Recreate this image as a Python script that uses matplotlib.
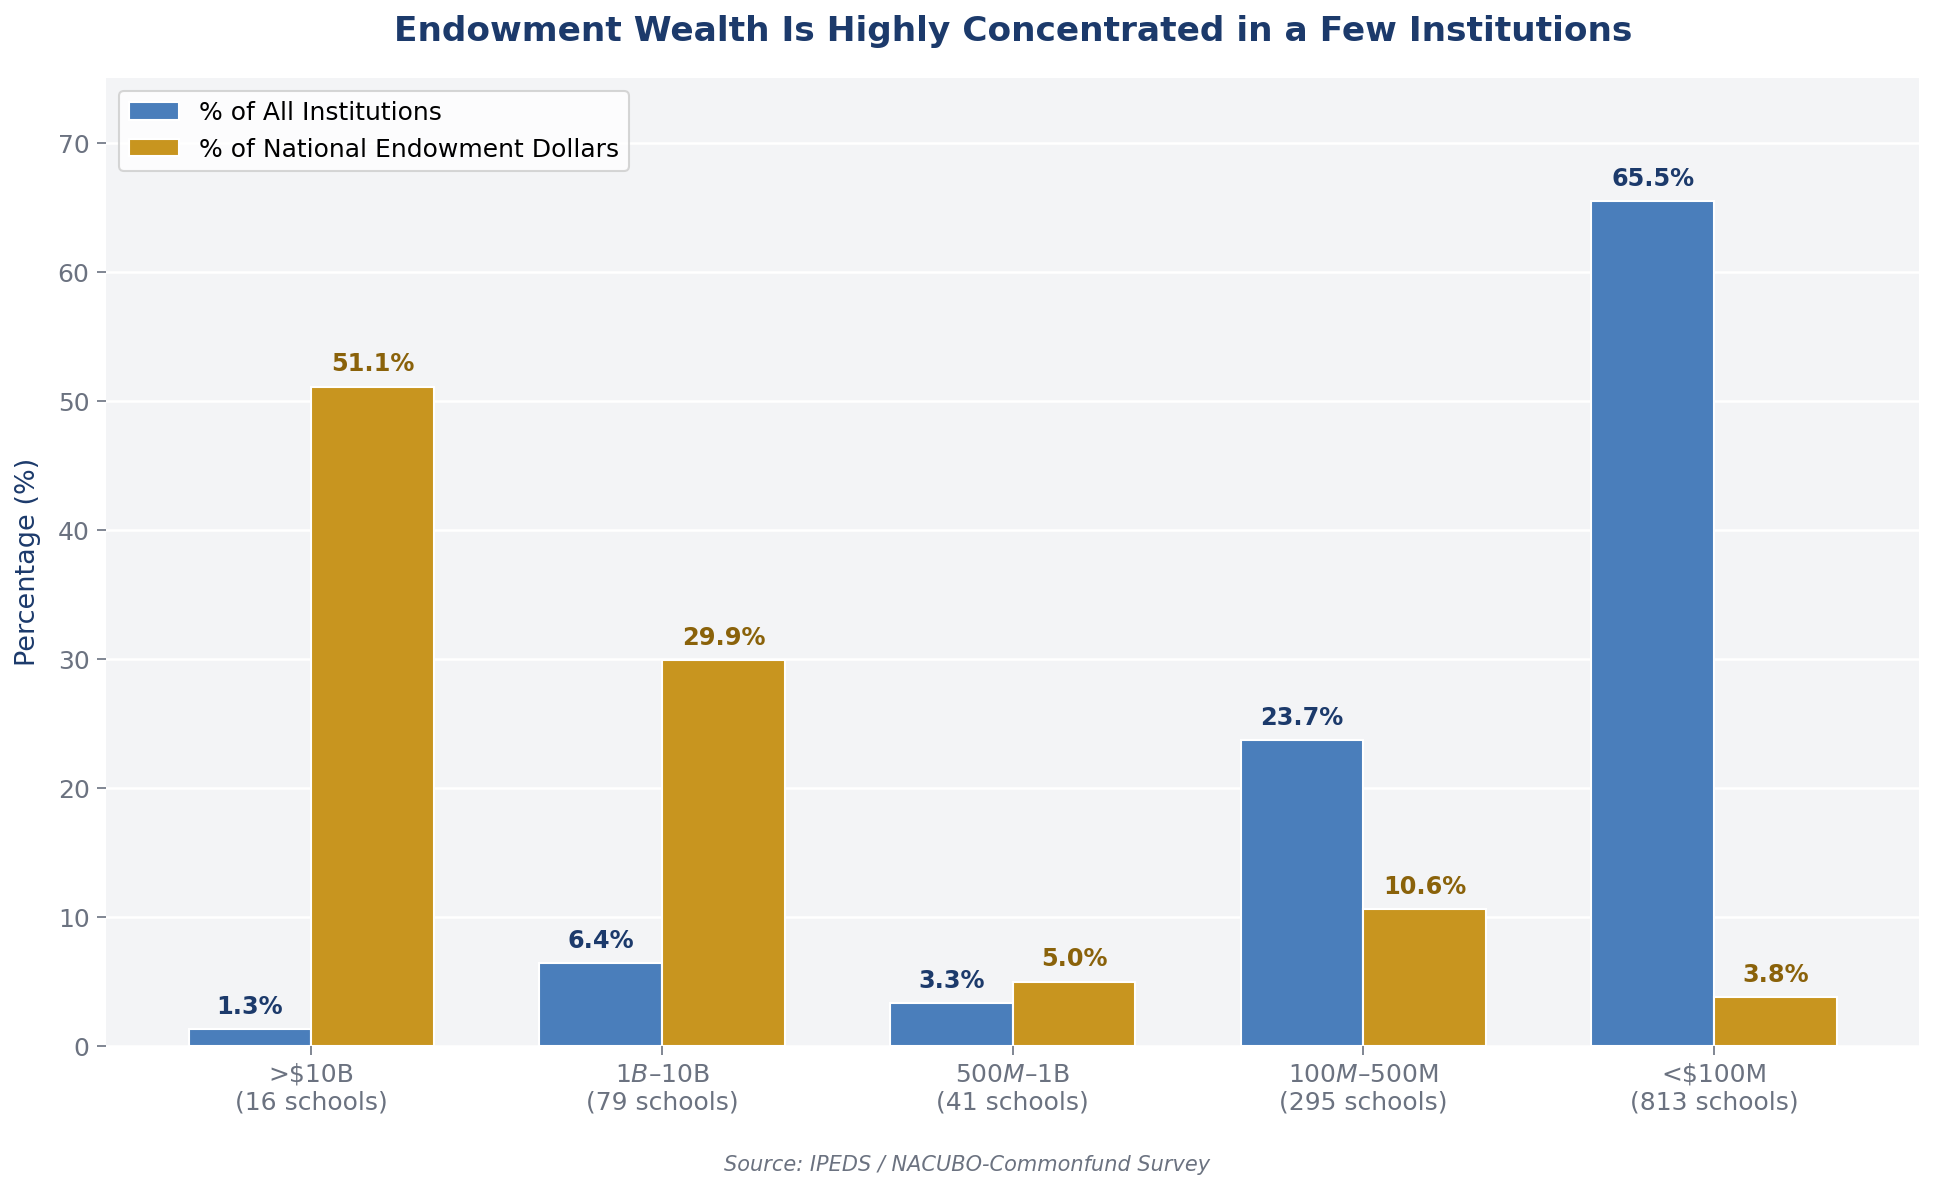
import numpy as np
import matplotlib
matplotlib.use("Agg")
import matplotlib.pyplot as plt

# endowment size tiers and school counts
tiers = [">$10B", "$1B–$10B", "$500M–$1B", "$100M–$500M", "<$100M"]
schools = [16, 79, 41, 295, 813]
pct_institutions = [1.3, 6.4, 3.3, 23.7, 65.5]
pct_dollars = [51.1, 29.9, 5.0, 10.6, 3.8]

blue = "#4a7ebb"
gold = "#c8951f"
navy = "#1c3a6b"
dark_gold = "#8a620a"
gray = "#6b7280"

labels = [t + "\n(" + str(n) + " schools)" for t, n in zip(tiers, schools)]
x = np.arange(len(tiers))
w = 0.35

fig, ax = plt.subplots(figsize=(13, 8))
ax.set_facecolor("#f3f4f6")
ax.set_axisbelow(True)
ax.grid(axis="y", color="white", linewidth=1.2)
for s in ax.spines.values():
    s.set_visible(False)

b1 = ax.bar(x - w / 2, pct_institutions, w, color=blue, edgecolor="white",
            linewidth=1, label="% of All Institutions")
b2 = ax.bar(x + w / 2, pct_dollars, w, color=gold, edgecolor="white",
            linewidth=1, label="% of National Endowment Dollars")

for bar, v in zip(b1, pct_institutions):
    ax.annotate(f"{v:.1f}%", (bar.get_x() + bar.get_width() / 2, v),
                xytext=(0, 5), textcoords="offset points", ha="center", va="bottom",
                fontsize=11.5, fontweight="bold", color=navy)
for bar, v in zip(b2, pct_dollars):
    ax.annotate(f"{v:.1f}%", (bar.get_x() + bar.get_width() / 2, v),
                xytext=(0, 5), textcoords="offset points", ha="center", va="bottom",
                fontsize=11.5, fontweight="bold", color=dark_gold)

ax.set_ylim(0, 75)
ax.set_xticks(x)
ax.set_xticklabels(labels)
ax.tick_params(axis="both", colors=gray, labelsize=12, length=4.5)
ax.set_ylabel("Percentage (%)", fontsize=13, color=navy, labelpad=8)
ax.set_title("Endowment Wealth Is Highly Concentrated in a Few Institutions",
             fontsize=16.5, fontweight="bold", color=navy, pad=18)
leg = ax.legend(loc="upper left", fontsize=12, frameon=True)
leg.get_frame().set_facecolor("white")
leg.get_frame().set_edgecolor("#cccccc")

fig.text(0.5, 0.017, "Source: IPEDS / NACUBO-Commonfund Survey", ha="center",
         fontsize=10, style="italic", color=gray)
fig.tight_layout(rect=(0, 0.04, 1, 1))
fig.savefig("out.png", dpi=150, bbox_inches="tight")
